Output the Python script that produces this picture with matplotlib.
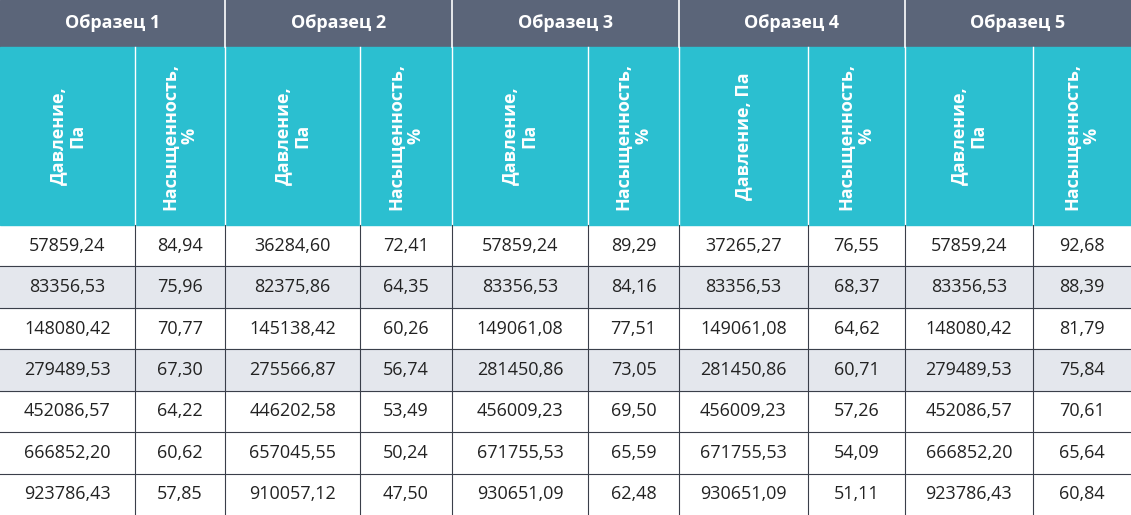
import matplotlib.pyplot as plt
from matplotlib.patches import Rectangle

plt.rcParams['font.family'] = ['Open Sans', 'DejaVu Sans']

samples = ["Образец 1", "Образец 2", "Образец 3", "Образец 4", "Образец 5"]
sub_headers = ["Давление,\nПа", "Насыщенность,\n%", "Давление,\nПа", "Насыщенность,\n%",
               "Давление,\nПа", "Насыщенность,\n%", "Давление, Па", "Насыщенность,\n%",
               "Давление,\nПа", "Насыщенность,\n%"]
rows = [
    ["57859,24", "84,94", "36284,60", "72,41", "57859,24", "89,29", "37265,27", "76,55", "57859,24", "92,68"],
    ["83356,53", "75,96", "82375,86", "64,35", "83356,53", "84,16", "83356,53", "68,37", "83356,53", "88,39"],
    ["148080,42", "70,77", "145138,42", "60,26", "149061,08", "77,51", "149061,08", "64,62", "148080,42", "81,79"],
    ["279489,53", "67,30", "275566,87", "56,74", "281450,86", "73,05", "281450,86", "60,71", "279489,53", "75,84"],
    ["452086,57", "64,22", "446202,58", "53,49", "456009,23", "69,50", "456009,23", "57,26", "452086,57", "70,61"],
    ["666852,20", "60,62", "657045,55", "50,24", "671755,53", "65,59", "671755,53", "54,09", "666852,20", "65,64"],
    ["923786,43", "57,85", "910057,12", "47,50", "930651,09", "62,48", "930651,09", "51,11", "923786,43", "60,84"],
]
striped_rows = [1, 3]

W, H = 1131, 515
col_x = [0, 135, 225, 360, 452, 588, 679, 808, 905, 1033, 1131]
top_h, sub_h = 47, 178
row_h = (H - top_h - sub_h) / len(rows)

fig = plt.figure(figsize=(W / 100, H / 100), dpi=100)
ax = fig.add_axes([0, 0, 1, 1])
ax.set_xlim(0, W)
ax.set_ylim(H, 0)
ax.axis("off")

dark = "#5b6579"
teal = "#2bbfd0"
stripe = "#e4e7ed"
line = "#3a3f4a"

# top header
for i, name in enumerate(samples):
    x0, x1 = col_x[2 * i], col_x[2 * i + 2]
    ax.add_patch(Rectangle((x0, 0), x1 - x0, top_h, color=dark))
    ax.text((x0 + x1) / 2, top_h / 2, name, color="white", fontsize=13,
            fontweight="bold", ha="center", va="center")
    if i > 0:
        ax.plot([x0, x0], [0, top_h], color="white", lw=1.2)

# rotated sub headers
ax.add_patch(Rectangle((0, top_h), W, sub_h, color=teal))
for j, txt in enumerate(sub_headers):
    x0, x1 = col_x[j], col_x[j + 1]
    ax.text((x0 + x1) / 2, top_h + sub_h / 2, txt, color="white", fontsize=13,
            fontweight="bold", ha="center", va="center", rotation=90,
            multialignment="center", linespacing=1.1)
    if j > 0:
        ax.plot([x0, x0], [top_h, top_h + sub_h], color="white", lw=1)

# data rows
for r, vals in enumerate(rows):
    y0 = top_h + sub_h + r * row_h
    if r in striped_rows:
        ax.add_patch(Rectangle((0, y0), W, row_h, color=stripe))
    for j, v in enumerate(vals):
        ax.text((col_x[j] + col_x[j + 1]) / 2, y0 + row_h / 2, v, color="#222222",
                fontsize=13, ha="center", va="center")
    if r > 0:
        ax.plot([0, W], [y0, y0], color=line, lw=0.8)

for x in col_x[1:-1]:
    ax.plot([x, x], [top_h + sub_h, H], color=line, lw=0.8)

fig.savefig("out.png", dpi=100)
